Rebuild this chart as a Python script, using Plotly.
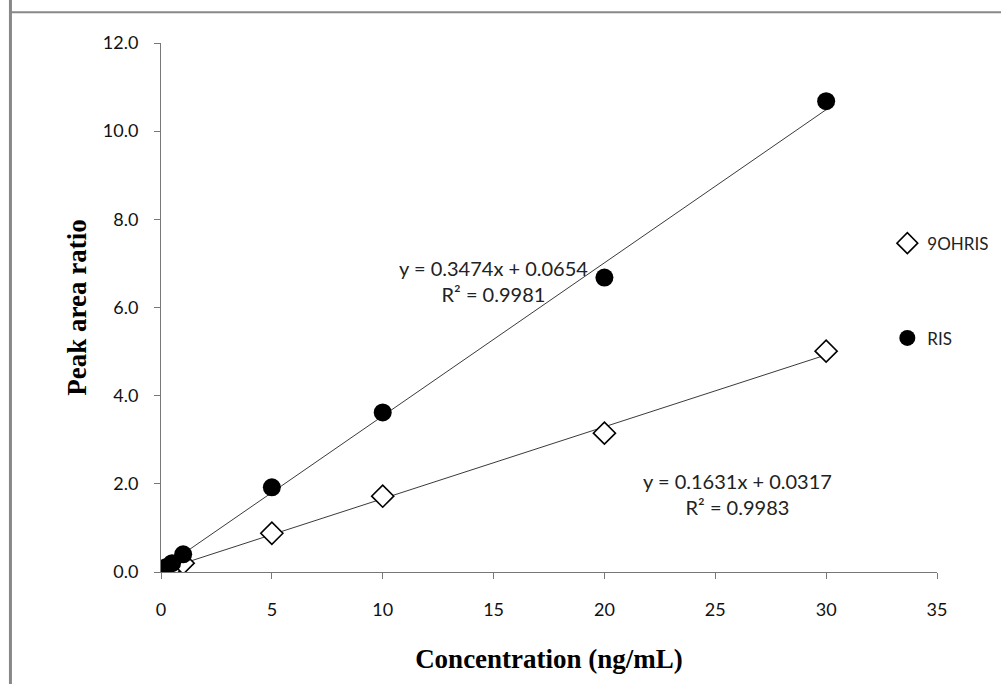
import plotly.graph_objects as go

# Calibration data: concentration (ng/mL) vs peak area ratio
conc = [0.2, 0.5, 1, 5, 10, 20, 30]
ohris_ratio = [0.05, 0.10, 0.20, 0.88, 1.72, 3.15, 5.01]
ris_ratio = [0.10, 0.20, 0.40, 1.92, 3.62, 6.68, 10.68]

# Linear fit coefficients (slope, intercept) and R²
ohris_fit = (0.1631, 0.0317, 0.9983)
ris_fit = (0.3474, 0.0654, 0.9981)

x_ticks = [0, 5, 10, 15, 20, 25, 30, 35]
y_ticks = [0, 2, 4, 6, 8, 10, 12]

tick_font = dict(family="Lato, Open Sans, sans-serif", size=18, color="#111")
title_font = dict(family="Liberation Serif, Times New Roman, serif", size=27, color="#000")

fig = go.Figure()

# Trendlines across the measured range
fit_x = [min(conc), max(conc)]
for slope, icpt, _ in (ris_fit, ohris_fit):
    fig.add_trace(go.Scatter(
        x=fit_x, y=[slope * v + icpt for v in fit_x], mode="lines",
        line=dict(color="#3a3a3a", width=1), showlegend=False, hoverinfo="skip"))

fig.add_trace(go.Scatter(
    x=conc, y=ohris_ratio, mode="markers", name="9OHRIS",
    marker=dict(symbol="diamond", size=17, color="white",
                line=dict(color="black", width=1.6)),
    legend="legend"))
fig.add_trace(go.Scatter(
    x=conc, y=ris_ratio, mode="markers", name="RIS",
    marker=dict(symbol="circle", size=18, color="black",
                line=dict(color="black", width=0)),
    legend="legend2"))

ann_font = dict(family="Lato, Open Sans, sans-serif", size=20, color="#222")
fig.add_annotation(x=15.0, y=6.6, xref="x", yref="y", showarrow=False,
                   text=f"y = {ris_fit[0]:.4f}x + {ris_fit[1]:.4f}<br>R² = {ris_fit[2]:.4f}",
                   font=ann_font, align="center")
fig.add_annotation(x=26.0, y=1.77, xref="x", yref="y", showarrow=False,
                   text=f"y = {ohris_fit[0]:.4f}x + {ohris_fit[1]:.4f}<br>R² = {ohris_fit[2]:.4f}",
                   font=ann_font, align="center")

# Outer frame (left and top edges)
fig.add_shape(type="line", xref="paper", yref="paper", x0=-0.194, x1=-0.194, y0=-0.3, y1=1.2,
              line=dict(color="#888", width=3))
fig.add_shape(type="line", xref="paper", yref="paper", x0=-0.195, x1=1.2, y0=1.058, y1=1.058,
              line=dict(color="#888", width=2))

legend_common = dict(xref="paper", yref="paper", xanchor="left", yanchor="middle",
                     bgcolor="rgba(0,0,0,0)",
                     font=dict(family="Lato, Open Sans, sans-serif", size=17, color="#222"),
                     itemwidth=30, tracegroupgap=0)

fig.update_layout(
    width=1001, height=684,
    margin=dict(l=161, r=64, t=43, b=112, autoexpand=False),
    paper_bgcolor="white", plot_bgcolor="white",
    showlegend=True,
    legend=dict(x=0.936, y=7.45 / 12, **legend_common),
    legend2=dict(x=0.936, y=5.3 / 12, **legend_common),
    xaxis=dict(range=[0, 35], tickvals=x_ticks, ticks="outside", ticklen=6,
               tickcolor="#777", showline=True, linecolor="#777", linewidth=1,
               showgrid=False, zeroline=False, tickfont=tick_font, ticklabelstandoff=15,
               title=dict(text="<b>Concentration (ng/mL)</b>", font=title_font, standoff=30)),
    yaxis=dict(range=[0, 12], tickvals=y_ticks, ticktext=[f"{v:.1f}" for v in y_ticks],
               ticks="outside", ticklen=6, tickcolor="#777", showline=True,
               linecolor="#777", linewidth=1, showgrid=False, zeroline=False,
               tickfont=tick_font, ticklabelstandoff=12,
               title=dict(text="<b>Peak area ratio</b>", font=title_font, standoff=8)),
)

fig.write_html("out.html")
